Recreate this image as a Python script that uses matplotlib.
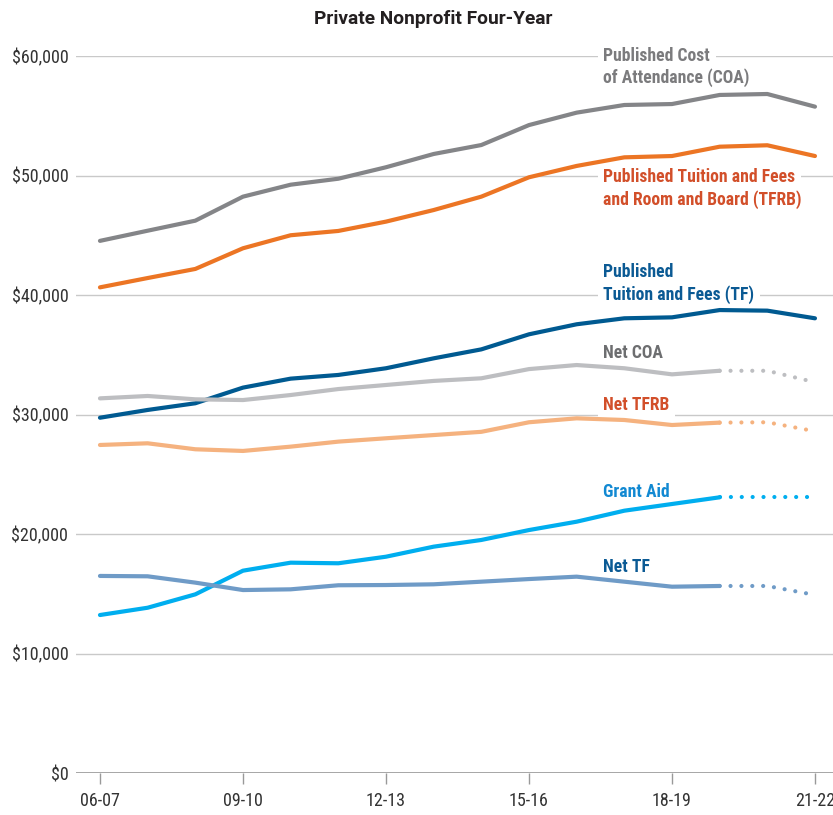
import matplotlib
matplotlib.use('Agg')
import matplotlib.pyplot as plt
from matplotlib import font_manager
from matplotlib.ticker import FuncFormatter

# pick a narrow face if one is installed
avail = set(f.name for f in font_manager.fontManager.ttflist)
fam = 'Roboto'
for name in ['Roboto Condensed', 'Liberation Sans Narrow', 'Open Sans Condensed']:
    if name in avail:
        fam = name
        break
plt.rcParams['font.family'] = [fam, 'DejaVu Sans']

years = ['06-07', '07-08', '08-09', '09-10', '10-11', '11-12', '12-13', '13-14',
         '14-15', '15-16', '16-17', '17-18', '18-19', '19-20', '20-21', '21-22']

coa = [44530, 45380, 46220, 48230, 49230, 49730, 50690, 51800,
       52550, 54220, 55260, 55900, 55980, 56740, 56820, 55760]
tfrb = [40640, 41420, 42180, 43910, 45000, 45360, 46140, 47110,
        48230, 49850, 50800, 51520, 51630, 52410, 52530, 51630]
tf = [29730, 30380, 30940, 32250, 33000, 33310, 33870, 34700,
      35450, 36710, 37550, 38050, 38130, 38740, 38690, 38050]
net_coa = [31350, 31550, 31270, 31210, 31630, 32130, 32470, 32810,
           33030, 33800, 34140, 33870, 33360, 33660, 33660, 32700]
net_tfrb = [27450, 27590, 27090, 26950, 27310, 27730, 28010, 28280,
            28550, 29350, 29680, 29540, 29120, 29320, 29350, 28600]
grant_aid = [13220, 13830, 14950, 16930, 17600, 17550, 18100, 18940,
             19500, 20330, 21030, 21950, 22510, 23070, 23070, 23070]
net_tf = [16490, 16460, 15930, 15310, 15370, 15710, 15730, 15790,
          16010, 16230, 16430, 16010, 15590, 15650, 15650, 14900]

last_actual = 13  # 19-20; later years of net prices / aid are estimates

fig = plt.figure(figsize=(8.33, 8.15), dpi=100)
ax = fig.add_axes([76/833, 42/815, 757/833, 717/815])

x = list(range(len(years)))
lw = 3.0

def solid(y, c):
    ax.plot(x, y, color=c, lw=lw, solid_capstyle='round', zorder=5)

def partly_dotted(y, c):
    n = last_actual + 1
    ax.plot(x[:n], y[:n], color=c, lw=lw, solid_capstyle='round', zorder=5)
    ax.plot(x[last_actual:], y[last_actual:], color=c, lw=lw,
            linestyle=(0, (0.01, 2.6)), dash_capstyle='round', zorder=5)

solid(coa, '#848588')
solid(tfrb, '#ec7524')
solid(tf, '#005a91')
partly_dotted(net_coa, '#bdbec1')
partly_dotted(net_tfrb, '#f5b27f')
partly_dotted(grant_aid, '#00aeef')
partly_dotted(net_tf, '#6f9bc7')

ax.set_xlim(-0.503, 15.378)
ax.set_ylim(0, 60000)
ax.set_xticks(x[::3])
ax.set_xticklabels(years[::3])
ax.set_yticks(range(0, 60001, 10000))
ax.yaxis.set_major_formatter(FuncFormatter(lambda v, p: '${:,.0f}'.format(v)))
ax.grid(axis='y', color='#c9c9c9', lw=1)
ax.set_axisbelow(True)
for s in ax.spines.values():
    s.set_visible(False)
ax.axhline(0, color='#999999', lw=1.2, zorder=2)
ax.tick_params(axis='y', length=0, pad=5.5, labelsize=13, labelcolor='#333333')
ax.tick_params(axis='x', length=8, width=1, color='#999999', pad=6,
               labelsize=13, labelcolor='#333333')

# series labels, one text per line so the white box cuts the gridline
lx = 10.56
labels = [
    ('Published Cost', 60000, '#7b7b7d'),
    ('of Attendance (COA)', 58160, '#7b7b7d'),
    ('Published Tuition and Fees', 49900, '#d24f2a'),
    ('and Room and Board (TFRB)', 48010, '#d24f2a'),
    ('Published', 41950, '#0b5a94'),
    ('Tuition and Fees (TF)', 40000, '#0b5a94'),
    ('Net COA', 35120, '#6d6e70'),
    ('Net TFRB', 30800, '#d24f2a'),
    ('Grant Aid', 23540, '#1289d2'),
    ('Net TF', 17260, '#0b5a94'),
]
for txt, yv, c in labels:
    ax.text(lx, yv, txt, color=c, fontsize=12.7, fontweight='bold',
            ha='left', va='center', zorder=4,
            bbox=dict(fc='white', ec='none', pad=4))

fig.text(433/833, 1 - 19/815, 'Private Nonprofit Four-Year', ha='center',
         va='center', fontsize=13.8, fontweight='bold', color='#231f20',
         family=['Roboto', 'DejaVu Sans'])

fig.savefig('out.png', dpi=100)
